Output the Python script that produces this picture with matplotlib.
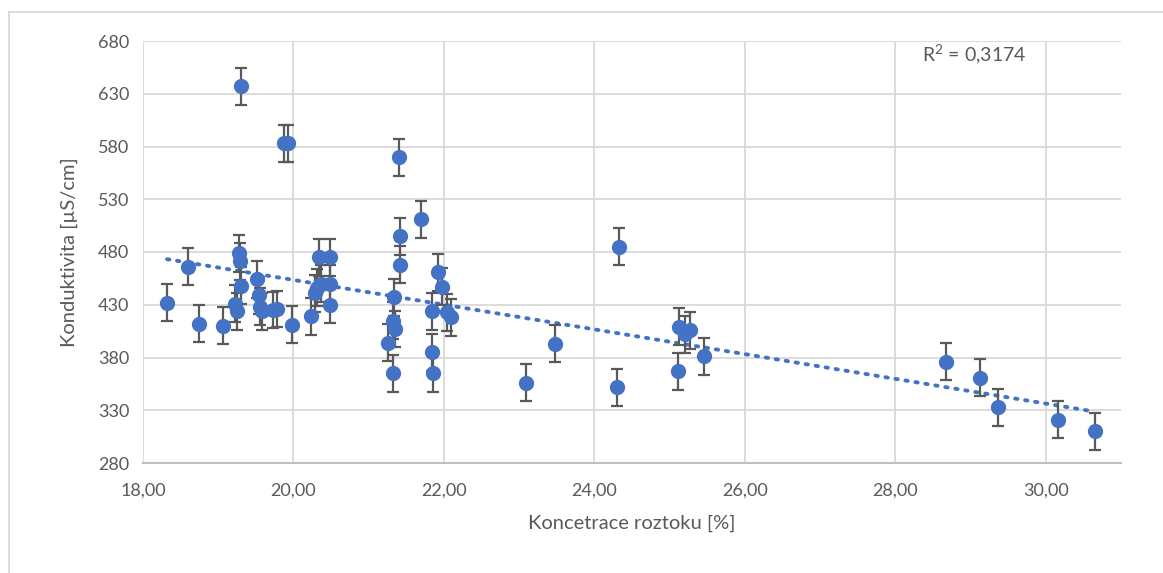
import numpy as np
import matplotlib
matplotlib.use("Agg")
import matplotlib.pyplot as plt
from matplotlib.lines import Line2D

# Solution concentration [%]
koncentrace = [
    18.32, 18.60, 18.75, 19.07, 19.28, 19.29, 19.30, 19.22, 19.25, 19.30,
    19.52, 19.54, 19.56, 19.58, 19.73, 19.78, 19.87, 19.93, 19.98,
    20.23, 20.28, 20.31, 20.34, 20.36, 20.48, 20.49, 20.49,
    21.26, 21.32, 21.32, 21.33, 21.35, 21.40, 21.42, 21.42,
    21.70, 21.84, 21.84, 21.85, 21.92, 21.97, 22.04, 22.10,
    23.09, 23.48, 24.30, 24.33,
    25.11, 25.12, 25.20, 25.27, 25.46,
    28.68, 29.12, 29.36, 30.16, 30.65,
]

# Conductivity [uS/cm]
konduktivita = [
    432, 466, 412, 410, 479, 471, 448, 431, 424, 637,
    454, 439, 428, 424, 425, 426, 583, 583, 411,
    419, 441, 446, 475, 450, 430, 475, 450,
    394, 415, 365, 437, 407, 570, 495, 468,
    511, 424, 385, 365, 461, 447, 423, 418,
    356, 393, 352, 485,
    367, 409, 402, 406, 381,
    376, 361, 333, 321, 310,
]

chyba = 17.5  # constant measurement uncertainty [uS/cm]

x_ticks = [18, 20, 22, 24, 26, 28, 30]
y_ticks = [280, 330, 380, 430, 480, 530, 580, 630, 680]
r2_text = "R$^2$ = 0,3174"

blue = "#4472C4"
grey_text = "#595959"
grid_col = "#D9D9D9"

plt.rcParams["font.family"] = ["Lato", "DejaVu Sans"]
plt.rcParams["mathtext.fontset"] = "custom"
plt.rcParams["mathtext.rm"] = "Lato"

fig = plt.figure(figsize=(11.63, 5.73), dpi=100)
ax = fig.add_axes([143 / 1163, 1 - 463 / 573, (1121 - 143) / 1163, (463 - 41) / 573])

x = np.array(koncentrace)
y = np.array(konduktivita)

ax.errorbar(x, y, yerr=chyba, fmt="none", ecolor="#595959", elinewidth=1.6,
            capsize=4.2, capthick=1.6, zorder=3)
ax.plot(x, y, "o", color=blue, markersize=11, markeredgewidth=0, zorder=4)

# linear trend line
k, q = np.polyfit(x, y, 1)
xt = np.array([x.min(), x.max()])
ax.plot(xt, k * xt + q, linestyle=(0, (0.6, 2.0)), color=blue, linewidth=2.8,
        dash_capstyle="round", zorder=2)

ax.set_xlim(18, 31)
ax.set_ylim(280, 680)
ax.set_xticks(x_ticks)
ax.set_yticks(y_ticks)
ax.set_xticklabels([f"{v:.2f}".replace(".", ",") for v in x_ticks])
ax.set_yticklabels([str(v) for v in y_ticks])
ax.tick_params(length=0, labelsize=13, colors=grey_text, pad=10)
ax.tick_params(axis="x", pad=14)

ax.grid(True, color=grid_col, linewidth=1.3)
ax.set_axisbelow(True)
for side in ["top", "right", "left"]:
    ax.spines[side].set_visible(False)
ax.spines["bottom"].set_color("#BFBFBF")
ax.spines["bottom"].set_linewidth(1.5)

ax.set_xlabel("Koncetrace roztoku [%]", fontsize=14.5, color=grey_text, labelpad=12)
ax.set_ylabel("Konduktivita [µS/cm]", fontsize=14.5, color=grey_text, labelpad=14)

ax.text(0.85, 0.995, r2_text, transform=ax.transAxes, fontsize=14,
        color=grey_text, ha="center", va="top")

# outer chart-area border (top and left edges)
fig.add_artist(Line2D([9 / 1163, 1.0], [1 - 12 / 573, 1 - 12 / 573],
                      transform=fig.transFigure, color="#D9D9D9", linewidth=1.3))
fig.add_artist(Line2D([9 / 1163, 9 / 1163], [0, 1 - 12 / 573],
                      transform=fig.transFigure, color="#D9D9D9", linewidth=1.3))

fig.savefig("out.png", dpi=100)
